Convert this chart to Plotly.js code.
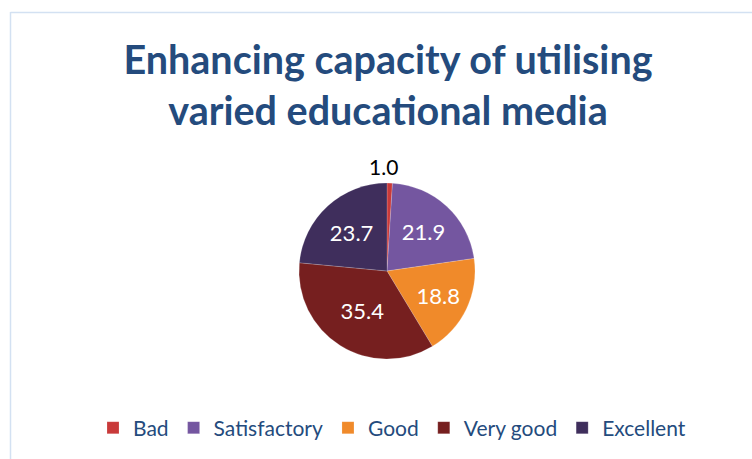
<!DOCTYPE html>
<html><head><meta charset="utf-8">
<script src="https://cdn.plot.ly/plotly-3.0.1.min.js"></script>
<style>html,body{margin:0;padding:0;background:#fff}#chart{width:752px;height:459px}</style>
</head><body><div id="chart"></div>
<script>
const categories = ["Bad", "Satisfactory", "Good", "Very good", "Excellent"];
const values = [1.0, 21.9, 18.8, 35.4, 23.7];
const colors = ["#c93a3a", "#7456a0", "#f08a2a", "#761f1f", "#3f2e5c"];
const titleText = "Enhancing capacity of utilising<br>varied educational media";

const W = 752, H = 459;
const cx = 387, cy = 271, r = 88;

// The tiny "Bad" slice has its label placed above the pie, as in the source
const sliceTexts = values.map((v, i) => i === 0 ? "" : v.toFixed(1));

const trace = {
  type: "pie",
  labels: categories,
  values: values,
  sort: false,
  direction: "clockwise",
  rotation: 0,
  marker: {colors: colors, line: {color: "rgba(255,255,255,0.35)", width: 0.5}},
  text: sliceTexts,
  textinfo: "text",
  textposition: "inside",
  insidetextorientation: "horizontal",
  insidetextfont: {family: "Lato, sans-serif", size: 22, color: "#ffffff"},
  automargin: false,
  hoverinfo: "label+value",
  domain: {x: [(cx - r) / W, (cx + r) / W], y: [1 - (cy + r) / H, 1 - (cy - r) / H]},
  showlegend: true
};

const layout = {
  width: W, height: H,
  margin: {l: 0, r: 0, t: 0, b: 0},
  paper_bgcolor: "#ffffff",
  font: {family: "Lato, sans-serif"},
  title: {
    text: titleText,
    font: {family: "Lato, sans-serif", size: 39.5, color: "#244b7d", weight: 700},
    x: 388 / W, xanchor: "center", y: 1 - 74 / H, yanchor: "middle", yref: "paper"
  },
  legend: {
    orientation: "h", x: 392 / W, xanchor: "center", y: 1 - 428 / H, yanchor: "middle",
    font: {family: "Lato, sans-serif", size: 21, color: "#244b7d"},
    itemwidth: 20, traceorder: "normal"
  },
  annotations: [
    {xref: "paper", yref: "paper", x: 384 / W, y: 1 - 166 / H, xanchor: "center", yanchor: "middle",
     text: values[0].toFixed(1), showarrow: false, font: {family: "Lato, sans-serif", size: 21, color: "#000000"}}
  ],
  shapes: [
    {type: "line", xref: "paper", yref: "paper", x0: 10.5 / W, x1: 10.5 / W, y0: 0, y1: 1 - 12 / H, line: {color: "#d3e1f2", width: 1.5}},
    {type: "line", xref: "paper", yref: "paper", x0: 10.5 / W, x1: 1, y0: 1 - 12.5 / H, y1: 1 - 12.5 / H, line: {color: "#d3e1f2", width: 1.5}}
  ]
};

Plotly.newPlot("chart", [trace], layout, {displayModeBar: false, staticPlot: true});
</script></body></html>
